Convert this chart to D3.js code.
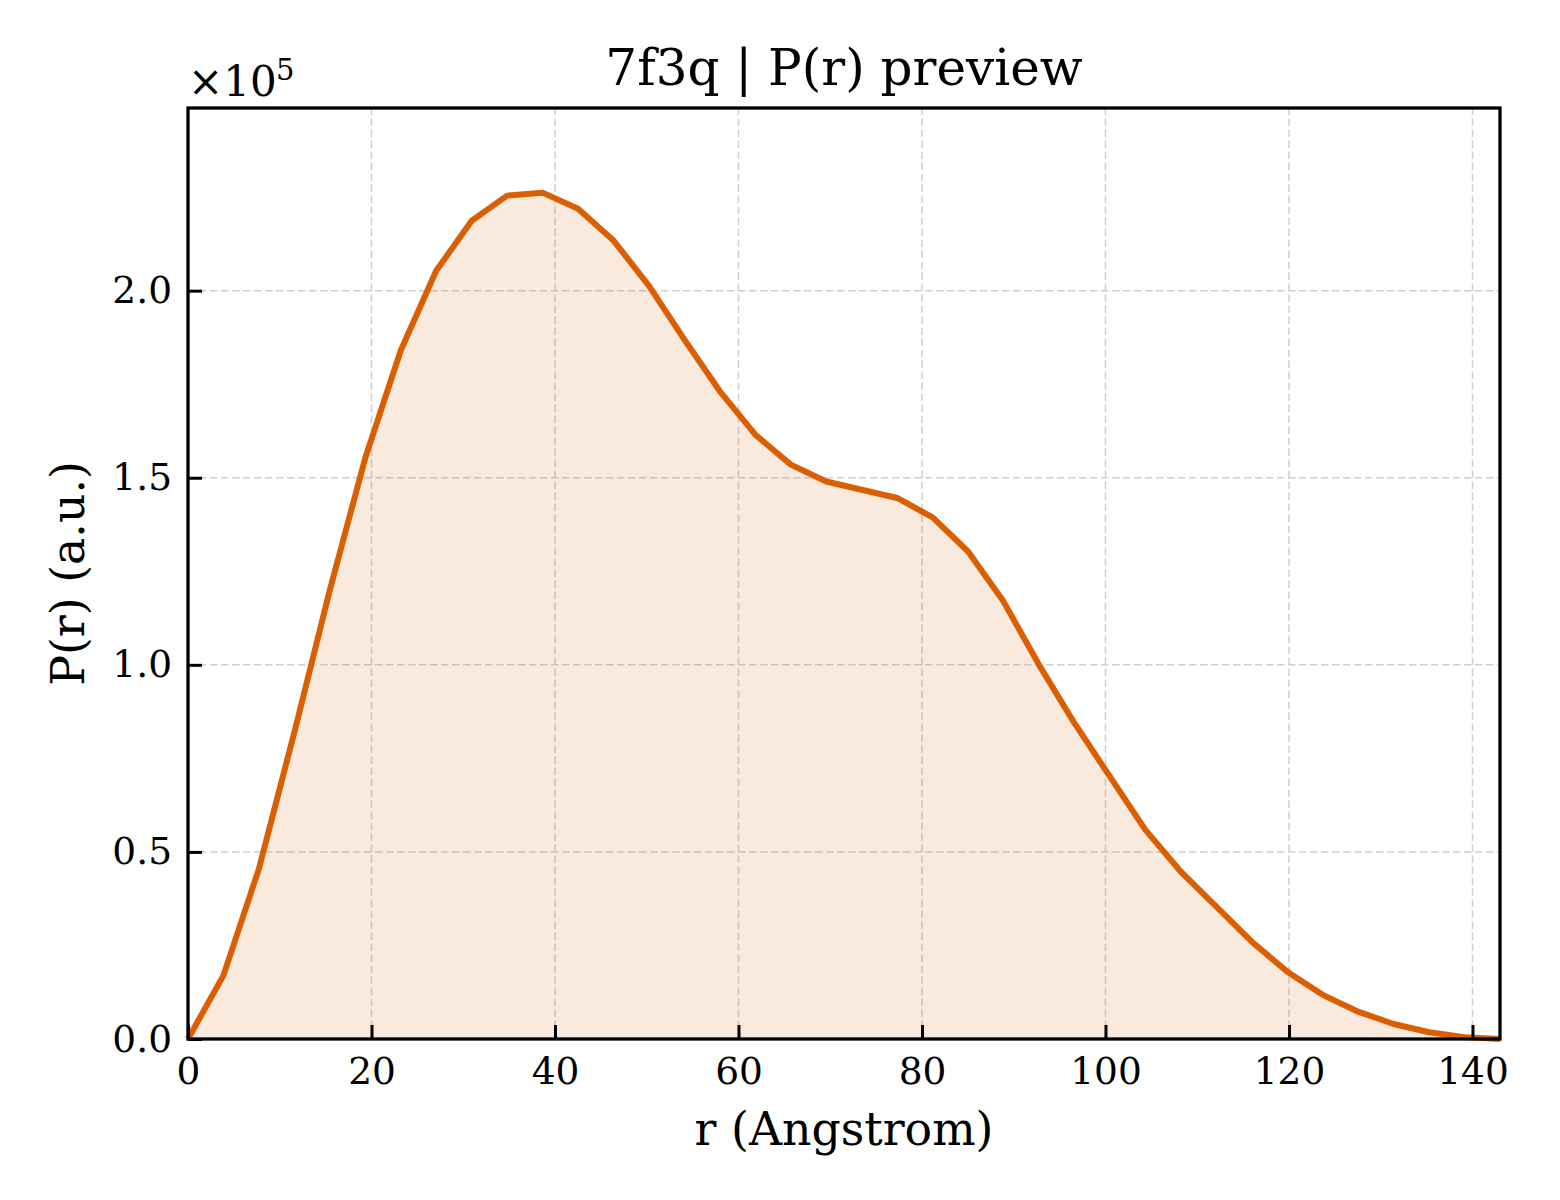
<!DOCTYPE html>
<html>
<head>
  <meta charset="utf-8">
  <title>7f3q P(r) preview</title>
  <script src="https://d3js.org/d3.v7.min.js"></script>
  <style>
    body { margin: 0; background: white; }
    svg { display: block; font-family: "DejaVu Serif", serif; }
  </style>
</head>
<body>
<div id="chart"></div>
<script>
  // P(r) values, units of 1e5, on an evenly spaced r grid up to dmax
  var dmax = 143;
  var prValues = [0, 0.17, 0.455, 0.82, 1.20, 1.553, 1.84, 2.053, 2.187, 2.254,
                  2.262, 2.219, 2.134, 2.013, 1.869, 1.731, 1.615, 1.535, 1.490, 1.468,
                  1.446, 1.394, 1.303, 1.169, 1.0, 0.844, 0.701, 0.559, 0.447, 0.354,
                  0.260, 0.180, 0.118, 0.073, 0.040, 0.018, 0.005, 0];
  var rValues = prValues.map(function (d, i) { return i * dmax / (prValues.length - 1); });
  var xTicks = [0, 20, 40, 60, 80, 100, 120, 140];
  var yTicks = [0, 0.5, 1.0, 1.5, 2.0];

  var width = 1560, height = 1200;
  var margin = { left: 188, right: 60, top: 108, bottom: 161 };
  var lineColor = "#d95f02";

  var svg = d3.select("#chart").append("svg")
    .attr("width", width)
    .attr("height", height);

  var x = d3.scaleLinear()
    .domain([0, dmax])
    .range([margin.left, width - margin.right]);
  var y = d3.scaleLinear()
    .domain([0, d3.max(prValues) * 1.1])
    .range([height - margin.bottom, margin.top]);

  var data = rValues.map(function (r, i) { return { r: r, p: prValues[i] }; });

  // grid
  var grid = svg.append("g")
    .attr("stroke", "#cfcfcf")
    .attr("stroke-width", 1.5)
    .attr("stroke-dasharray", "7.5,3.5");
  grid.selectAll(".gx").data(xTicks).enter().append("line")
    .attr("x1", function (d) { return x(d); })
    .attr("x2", function (d) { return x(d); })
    .attr("y1", y.range()[0])
    .attr("y2", y.range()[1]);
  grid.selectAll(".gy").data(yTicks).enter().append("line")
    .attr("y1", function (d) { return y(d); })
    .attr("y2", function (d) { return y(d); })
    .attr("x1", x.range()[0])
    .attr("x2", x.range()[1]);

  // fill under curve
  svg.append("path")
    .datum(data)
    .attr("fill", lineColor)
    .attr("fill-opacity", 0.13)
    .attr("d", d3.area()
      .x(function (d) { return x(d.r); })
      .y0(y(0))
      .y1(function (d) { return y(d.p); }));

  // the curve
  svg.append("path")
    .datum(data)
    .attr("fill", "none")
    .attr("stroke", lineColor)
    .attr("stroke-width", 6)
    .attr("stroke-linejoin", "round")
    .attr("d", d3.line()
      .x(function (d) { return x(d.r); })
      .y(function (d) { return y(d.p); }));

  // axes, ticks pointing inward
  var xAxis = svg.append("g")
    .attr("transform", "translate(0," + y(0) + ")")
    .call(d3.axisBottom(x).tickValues(xTicks).tickSizeInner(-14).tickSizeOuter(0).tickPadding(18));
  var yAxis = svg.append("g")
    .attr("transform", "translate(" + x(0) + ",0)")
    .call(d3.axisLeft(y).tickValues(yTicks).tickFormat(d3.format(".1f"))
      .tickSizeInner(-14).tickSizeOuter(0).tickPadding(16));

  [xAxis, yAxis].forEach(function (ax) {
    ax.select(".domain").remove();
    ax.selectAll(".tick line").attr("stroke", "black").attr("stroke-width", 3);
    ax.selectAll(".tick text")
      .attr("fill", "black")
      .style("font-family", "DejaVu Serif, serif")
      .style("font-size", "37.5px");
  });

  // frame
  svg.append("rect")
    .attr("x", x.range()[0])
    .attr("y", y.range()[1])
    .attr("width", x.range()[1] - x.range()[0])
    .attr("height", y.range()[0] - y.range()[1])
    .attr("fill", "none")
    .attr("stroke", "black")
    .attr("stroke-width", 3.3);

  // offset text (x10^5)
  var off = svg.append("g");
  off.append("text").attr("x", 188).attr("y", 96).style("font-size", "42px").text("×10");
  off.append("text").attr("x", 276).attr("y", 80).style("font-size", "29px").text("5");

  // title and labels
  svg.append("text")
    .attr("x", (x.range()[0] + x.range()[1]) / 2)
    .attr("y", 85)
    .attr("text-anchor", "middle")
    .style("font-size", "50px")
    .text("7f3q | P(r) preview");

  svg.append("text")
    .attr("x", (x.range()[0] + x.range()[1]) / 2)
    .attr("y", 1145)
    .attr("text-anchor", "middle")
    .style("font-size", "45.8px")
    .text("r (Angstrom)");

  svg.append("text")
    .attr("transform", "translate(84," + (y.range()[0] + y.range()[1]) / 2 + ") rotate(-90)")
    .attr("text-anchor", "middle")
    .style("font-size", "45.8px")
    .text("P(r) (a.u.)");
</script>
</body>
</html>
